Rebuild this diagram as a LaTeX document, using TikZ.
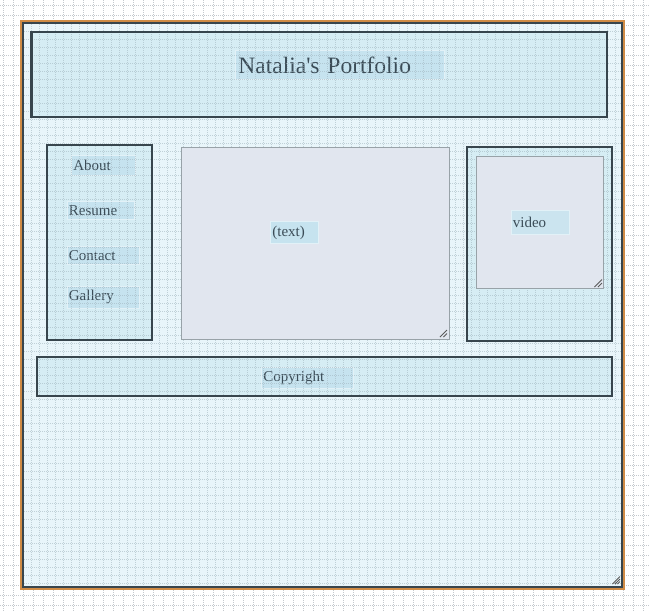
\documentclass[tikz,border=0pt]{standalone}
\usepackage{fontspec}
\setmainfont{Liberation Serif}
\definecolor{pagegrid}{HTML}{C4C9CD}
\definecolor{ingrid}{HTML}{9FB3BC}
\definecolor{framebg}{HTML}{E8F5FA}
\definecolor{boxbg}{HTML}{D6EDF4}
\definecolor{boxline}{HTML}{37454D}
\definecolor{lblfill}{HTML}{C6E3EF}
\definecolor{lbledge}{HTML}{E2F1F7}
\definecolor{txtcol}{HTML}{3B4C57}
\definecolor{areafill}{HTML}{E1E6EF}
\definecolor{areaedge}{HTML}{98A2A8}
\definecolor{frameorange}{HTML}{CF8B45}
\tikzset{
  gridline/.style={pagegrid, line width=0.6pt, dash pattern=on 1pt off 1pt},
  ingridline/.style={ingrid, line width=0.6pt, dash pattern=on 1pt off 1pt, opacity=0.55},
  secbox/.style={draw=boxline, line width=2.2pt},
  lbl/.style={fill=lblfill, draw=lbledge, line width=0.8pt, text=txtcol, anchor=north west,
    inner sep=2pt, align=left, font=\fontsize{15}{17}\selectfont},
  area/.style={fill=areafill, draw=areaedge, line width=1pt},
  grip/.style={draw=black!65, line width=0.8pt}
}
\begin{document}
\begin{tikzpicture}[x=1pt,y=-1pt]
\useasboundingbox (0,0) rectangle (649,611);
\fill[white] (0,0) rectangle (649,611);
% page grid
\foreach \x in {3,13,...,643} \draw[gridline] (\x,0) -- (\x,611);
\foreach \y in {5,15,...,605} \draw[gridline] (0,\y) -- (649,\y);
% frame background
\fill[framebg] (22,22) rectangle (623,588);
% section fills
\fill[boxbg] (31.5,32) rectangle (607,117);
\fill[boxbg] (47,145) rectangle (152,340);
\fill[boxbg] (467,147) rectangle (612,341);
\fill[boxbg] (37,357) rectangle (612,396);
% labels
\node[lbl, text width=203pt, minimum height=29pt, inner sep=3pt, font=\fontsize{23.5}{28}\selectfont] (title) at (235,50) {Natalia\textquotesingle s Portfolio};
\node[lbl, text width=60pt, minimum height=20pt] (about) at (71,155) {About};
\node[lbl, text width=63pt, minimum height=18pt] (resume) at (66.5,201) {Resume};
\node[lbl, text width=68pt, minimum height=18pt] (contact) at (66.5,246) {Contact};
\node[lbl, text width=68pt, minimum height=22pt] (gallery) at (66.5,286) {Gallery};
\node[lbl, text width=88pt, minimum height=21pt] (copyright) at (261,367) {Copyright};
% inner grid
\begin{scope}
\clip (23,23) rectangle (622,587);
\foreach \x in {23,31,...,623} \draw[ingridline] (\x,22) -- (\x,588);
\foreach \y in {23,31,...,589} \draw[ingridline] (22,\y) -- (623,\y);
\end{scope}
% section outlines
\draw[secbox] (31.5,32) rectangle (607,117);
\draw[secbox] (47,145) rectangle (152,340);
\draw[secbox] (467,147) rectangle (612,341);
\draw[secbox] (37,357) rectangle (612,396);
% text area
\draw[area] (181,147) rectangle (449,339);
\node[lbl, text width=44pt, minimum height=22pt] (textlbl) at (270,221) {(text)};
\draw[grip] (440,337) -- (447,330);
\draw[grip] (443.5,337) -- (447,333.5);
% video
\draw[area] (476.5,156.5) rectangle (603.5,288.5);
\node[lbl, text width=54pt, minimum height=24pt, fill=lblfill!80!areafill] (videolbl) at (510.5,210) {video};
\draw[grip] (594.5,287) -- (602,279.5);
\draw[grip] (598,287) -- (602,283);
% frame
\draw[frameorange, line width=1.5pt] (21,21) rectangle (624,589);
\draw[boxline, line width=2pt] (23,23) rectangle (622,587);
\draw[grip] (612.5,584) -- (620,576.5);
\draw[grip] (615,584) -- (620,579);
\draw[grip] (617.5,584) -- (620,581.5);
\end{tikzpicture}
\end{document}
